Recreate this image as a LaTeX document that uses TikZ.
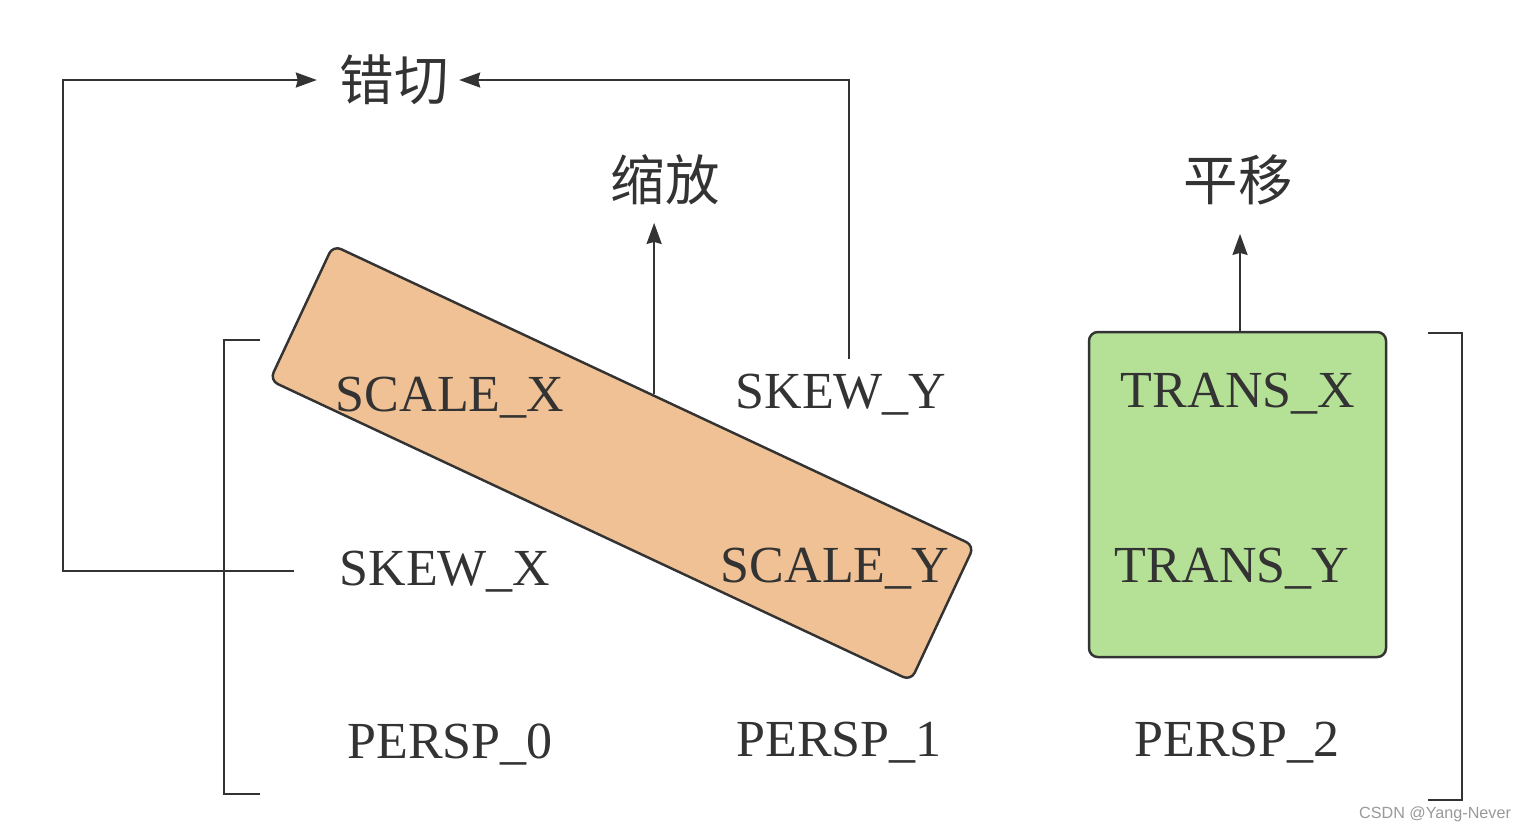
\documentclass[tikz,border=0pt]{standalone}
\usepackage{fontspec}
\setmainfont{Liberation Serif}
\newfontfamily\cjk{Noto Sans CJK SC}
\newfontfamily\wmfont{Liberation Sans}
\usetikzlibrary{arrows.meta}
\definecolor{ink}{HTML}{333333}
\definecolor{bandfill}{HTML}{EFC194}
\definecolor{transfill}{HTML}{B5E196}
\tikzstyle{lbl} = [text=ink, font=\fontsize{14.8}{17}\selectfont, anchor=base, inner sep=0]
\tikzstyle{cn} = [text=ink, font=\cjk\fontsize{15.5}{18}\selectfont, inner sep=0]
\tikzstyle{arrow} = [draw=ink, line width=0.6pt, -{Stealth[length=2.1mm,width=1.5mm,inset=0.2mm]}]
\tikzstyle{line} = [draw=ink, line width=0.6pt]
\tikzstyle{box} = [draw=ink, line width=0.7pt, rounded corners=2.5pt]

\begin{document}
\begin{tikzpicture}[x=0.1mm,y=-0.1mm]
\useasboundingbox (0,0) rectangle (1521,832);
% coloured blocks
\node[box,fill=bandfill,rotate=-25.1,minimum width=7.08cm,minimum height=1.49cm] (band) at (622,463) {};
\node[box,fill=transfill,minimum width=2.97cm,minimum height=3.25cm] (trans) at (1237.5,494.5) {};
% matrix entries
\node[lbl] (scalex) at (450,411) {SCALE\_X};
\node[lbl] (skewy) at (841,408) {SKEW\_Y};
\node[lbl] (transx) at (1238,407) {TRANS\_X};
\node[lbl] (skewx) at (445,585) {SKEW\_X};
\node[lbl] (scaley) at (835,582) {SCALE\_Y};
\node[lbl] (transy) at (1232,582) {TRANS\_Y};
\node[lbl] (persp0) at (450,758) {PERSP\_0};
\node[lbl] (persp1) at (839,756) {PERSP\_1};
\node[lbl] (persp2) at (1237,756) {PERSP\_2};
% brackets
\draw[line] (260,340) -- (224,340) -- (224,794) -- (260,794);
\draw[line] (1428,333) -- (1462,333) -- (1462,800) -- (1428,800);
% what they do
\node[cn] (shear) at (394,80) {错切};
\node[cn] (scale) at (665,180) {缩放};
\node[cn] (move) at (1238,180) {平移};
\coordinate (lc) at (63,571);
\coordinate (rc) at (849,80);
\draw[arrow,shorten <=4.5mm,shorten >=2.2mm] (skewx.west |- lc) -- (lc) |- (shear.west);
\draw[arrow,shorten <=1.4mm,shorten >=1mm] (skewy.north -| rc) |- (shear.east);
\draw[arrow,shorten >=1.7mm] (band.north) -- (band.north |- scale.south);
\draw[arrow,shorten >=2.8mm] ([xshift=0.25mm]trans.north) -- ([xshift=0.25mm]trans.north |- move.south);
\node[font=\wmfont\fontsize{4.6}{5}\selectfont,text=gray!80] (mark) at (1435,814) {CSDN @Yang-Never};
\end{tikzpicture}
\end{document}
